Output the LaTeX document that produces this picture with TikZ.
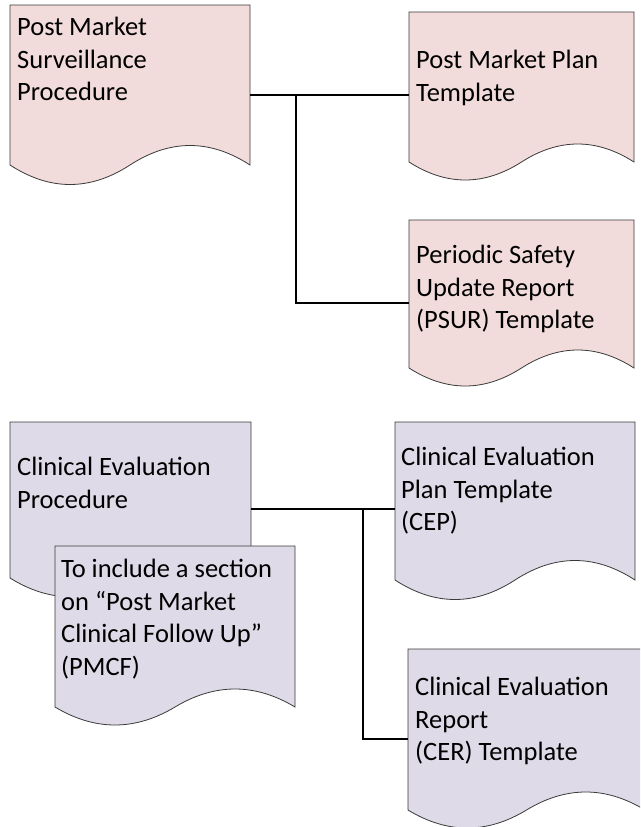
\documentclass[tikz,border=0pt]{standalone}
\usepackage{fontspec}
\setmainfont{Carlito}
\usetikzlibrary{calc}

\definecolor{pinkfill}{HTML}{F2DCDB}
\definecolor{lilacfill}{HTML}{DFDAE7}
\definecolor{edge}{HTML}{3A3A3A}

% Outline of a flowchart "document" shape laid over a named rectangle node:
% #1 node name, #2 fill colour, #3 depth of the wavy bottom edge
\newcommand{\docoutline}[3]{%
  \path[docline, fill=#2] (#1.north west) -- (#1.north east) -- (#1.south east)
    .. controls ($(#1.south west)!0.8333!(#1.south east)+(0,-#3)$)
           and ($(#1.south west)!0.6667!(#1.south east)+(0,-#3)$) .. (#1.south)
    .. controls ($(#1.south west)!0.3333!(#1.south east)+(0,#3)$)
           and ($(#1.south west)!0.1667!(#1.south east)+(0,#3)$) .. (#1.south west)
    -- cycle;}

\tikzset{
  docframe/.style={draw=none, inner sep=0pt, outer sep=0pt, anchor=north west},
  docline/.style={draw=edge, line width=0.8pt},
  doctext/.style={anchor=north west, inner sep=0pt, align=left,
    font=\fontsize{26.5}{32.5}\selectfont, text=black},
  wire/.style={draw=black, line width=1.5pt},
}

\begin{document}
\begin{tikzpicture}[x=1pt, y=-1pt]
  \clip (0,0) rectangle (640,827);
  \fill[white] (0,0) rectangle (640,827);

  % --- post market surveillance group ---
  \node[docframe, minimum width=240pt, minimum height=160pt] (pms) at (10,5) {};
  \node[docframe, minimum width=225pt, minimum height=150pt] (pmp) at (409,12) {};
  \node[docframe, minimum width=225pt, minimum height=148pt] (psur) at (409,220) {};
  \docoutline{pms}{pinkfill}{26}
  \docoutline{pmp}{pinkfill}{24}
  \docoutline{psur}{pinkfill}{24}
  \node[doctext] (pms-t) at (17,17) {Post Market\\Surveillance\\Procedure};
  \node[doctext] (pmp-t) at (416,50) {Post Market Plan\\Template};
  \node[doctext] (psur-t) at (416,245) {Periodic Safety\\Update Report\\(PSUR) Template};

  \coordinate (j1) at (296,95);
  \coordinate (j2) at (296,303);
  \draw[wire] (pms.east |- j1) -- (pmp.west |- j1);
  \draw[wire] (j1) -- (j2) -- (psur.west |- j2);

  % --- clinical evaluation group ---
  \node[docframe, minimum width=241pt, minimum height=156pt] (cep) at (10,422) {};
  \node[docframe, minimum width=240pt, minimum height=158pt] (cepl) at (395,422) {};
  \node[docframe, minimum width=237pt, minimum height=161pt] (cer) at (408,649) {};
  \docoutline{cep}{lilacfill}{25}
  \node[doctext] (cep-t) at (17,457) {Clinical Evaluation\\Procedure};
  \node[docframe, minimum width=240pt, minimum height=161pt] (pmcf) at (55,546) {};
  \docoutline{pmcf}{lilacfill}{24}
  \node[doctext] (pmcf-t) at (61,559) {To include a section\\on “Post Market\\Clinical Follow Up”\\(PMCF)};
  \docoutline{cepl}{lilacfill}{26}
  \docoutline{cer}{lilacfill}{24}
  \node[doctext] (cepl-t) at (401,447) {Clinical Evaluation\\Plan Template\\(CEP)};
  \node[doctext] (cer-t) at (415,677) {Clinical Evaluation\\Report\\(CER) Template};

  \coordinate (j3) at (363,509);
  \coordinate (j4) at (363,739);
  \draw[wire] (cep.east |- j3) -- (cepl.west |- j3);
  \draw[wire] (j3) -- (j4) -- (cer.west |- j4);
\end{tikzpicture}
\end{document}
